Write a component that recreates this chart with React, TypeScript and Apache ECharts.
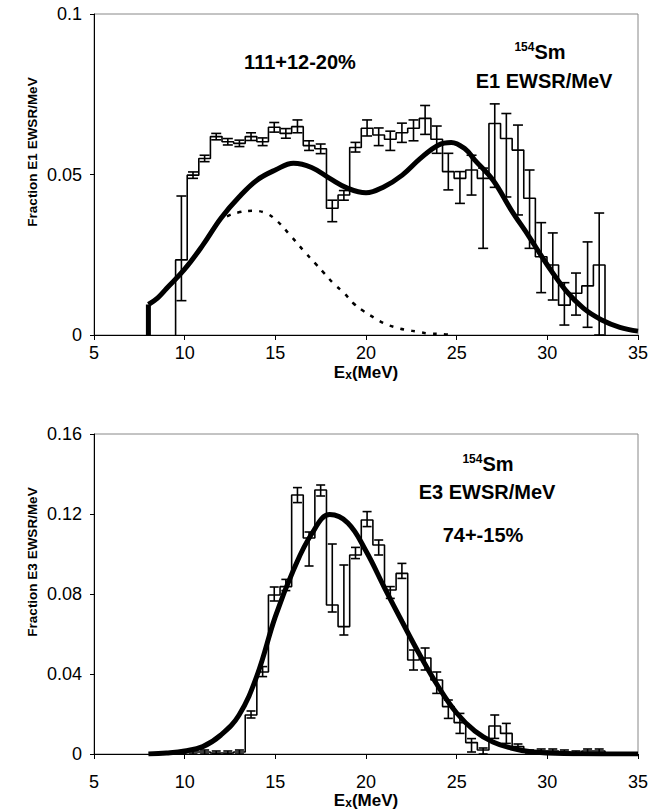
import React, { useEffect, useRef } from "react";
import * as echarts from "echarts";

// Bin edges (MeV), shared by both histograms
const binEdges = [
  9.5, 10.14, 10.78, 11.42, 12.06, 12.7, 13.34, 13.98, 14.62, 15.26, 15.9, 16.54, 17.18,
  17.82, 18.46, 19.1, 19.74, 20.38, 21.02, 21.66, 22.3, 22.94, 23.58, 24.22, 24.86, 25.5,
  26.14, 26.78, 27.42, 28.06, 28.7, 29.34, 29.98, 30.62, 31.26, 31.9, 32.54, 33.18,
];

// E1 histogram
const e1Values = [
  0.0234, 0.0498, 0.055, 0.0618, 0.0602, 0.0597, 0.0618, 0.0602, 0.0647, 0.0628, 0.0649,
  0.059, 0.058, 0.0395, 0.0436, 0.0584, 0.0644, 0.0623, 0.061, 0.063, 0.0644, 0.0675,
  0.061, 0.0509, 0.0488, 0.0514, 0.0488, 0.0659, 0.0612, 0.0576, 0.0426, 0.0244, 0.0218,
  0.0093, 0.013, 0.0153, 0.0218,
];
const e1Lo = [
  0.0107, 0.0488, 0.054, 0.0608, 0.0592, 0.0587, 0.0606, 0.059, 0.0632, 0.0613, 0.063,
  0.0575, 0.0565, 0.0353, 0.042, 0.057, 0.062, 0.059, 0.0575, 0.06, 0.0605, 0.0625,
  0.0566, 0.0452, 0.041, 0.0436, 0.027, 0.046, 0.043, 0.0374, 0.027, 0.0132, 0.0109,
  0.0031, 0.0062, 0.0024, 0,
];
const e1Hi = [
  0.0433, 0.0508, 0.056, 0.0628, 0.0612, 0.0607, 0.063, 0.0614, 0.0662, 0.0643, 0.067,
  0.0605, 0.0595, 0.042, 0.045, 0.06, 0.067, 0.0645, 0.0635, 0.066, 0.067, 0.0715,
  0.0651, 0.0566, 0.0509, 0.056, 0.052, 0.072, 0.069, 0.0654, 0.0514, 0.035, 0.0318,
  0.0163, 0.0193, 0.029, 0.038,
];

// E1 fit (thick) and lower component (dashed)
const e1FitX = [8, 8.5, 9, 10, 11, 12, 13, 14, 15, 16, 17, 18, 19, 20, 21, 22, 23, 24, 24.7, 25.5, 26, 27, 28, 29, 30, 31, 32, 33, 34, 35];
const e1FitY = [
  0.0095, 0.0115, 0.0145, 0.0205, 0.028, 0.0364, 0.043, 0.0483, 0.0514, 0.0535, 0.0522,
  0.0488, 0.0457, 0.0443, 0.0462, 0.0498, 0.055, 0.0592, 0.06, 0.0578, 0.0545, 0.0483,
  0.039, 0.0306, 0.0218, 0.014, 0.0083, 0.0047, 0.0024, 0.0012,
];
const e1CompX = [11.8, 12.3, 12.9, 13.8, 14.5, 15.1, 15.8, 16.6, 17.2, 17.7, 18.2, 18.8, 19.3, 19.9, 20.5, 21.0, 21.6, 22.2, 22.9, 23.4, 24.2, 24.7];
const e1CompY = [
  0.0353, 0.0369, 0.0381, 0.0387, 0.0379, 0.0355, 0.0312, 0.026, 0.0223, 0.0192, 0.0161,
  0.013, 0.0099, 0.0073, 0.0052, 0.0036, 0.0024, 0.0016, 0.001, 0.0005, 0.0003, 0,
];

// E3 histogram
const e3Values = [
  0.0005, 0.001, 0.001, 0.0005, 0.0005, 0.001, 0.0195, 0.041, 0.0795, 0.0837, 0.1295,
  0.108, 0.132, 0.0745, 0.0637, 0.0995, 0.117, 0.1045, 0.082, 0.0903, 0.047, 0.048,
  0.037, 0.0237, 0.0157, 0.0057, 0.002, 0.014, 0.0103, 0.0037, 0.001, 0.0015, 0.0015,
  0.001, 0.0005, 0.0015, 0.0015,
];
const e3Lo = [
  0, 0, 0, 0, 0, 0, 0.018, 0.0387, 0.0765, 0.0817, 0.1257, 0.094, 0.129, 0.071, 0.0595,
  0.0977, 0.1137, 0.0995, 0.0778, 0.0878, 0.042, 0.042, 0.0303, 0.0178, 0.0103, 0.001, 0,
  0.0078, 0.0053, 0.002, 0, 0, 0, 0, 0, 0, 0,
];
const e3Hi = [
  0.0015, 0.002, 0.002, 0.0015, 0.0015, 0.002, 0.0215, 0.0437, 0.0835, 0.0873, 0.1332,
  0.111, 0.1345, 0.105, 0.0945, 0.1033, 0.1212, 0.107, 0.0837, 0.0953, 0.052, 0.053,
  0.041, 0.027, 0.0203, 0.0077, 0.003, 0.0195, 0.0153, 0.005, 0.002, 0.0025, 0.0025,
  0.002, 0.0015, 0.0025, 0.0025,
];

// E3 fit
const e3FitX = [8, 9, 10, 11, 12, 13, 14, 15, 16, 17, 18, 19, 20, 21, 22, 23, 24, 25, 26, 27, 28, 29, 30, 32, 35];
const e3FitY = [
  0, 0.0005, 0.0015, 0.0037, 0.0095, 0.0195, 0.0395, 0.0687, 0.092, 0.11, 0.1197, 0.1155,
  0.1015, 0.0835, 0.066, 0.049, 0.0335, 0.0205, 0.0115, 0.006, 0.003, 0.0012, 0.0005, 0.0001, 0,
];

const xTicks = [5, 10, 15, 20, 25, 30, 35];
const yTicksTop = [0, 0.05, 0.1];
const yTicksBottom = [0, 0.04, 0.08, 0.12, 0.16];

const FONT = "Arial, 'Liberation Sans', Helvetica, sans-serif";

function stepData(edges: number[], vals: number[]) {
  const d: number[][] = [[edges[0], 0]];
  vals.forEach((v, i) => d.push([edges[i], v]));
  d.push([edges[edges.length - 1], vals[vals.length - 1]]);
  d.push([edges[edges.length - 1], 0]);
  return d;
}

function errData(edges: number[], lo: number[], hi: number[]) {
  return lo.map((l, i) => [(edges[i] + edges[i + 1]) / 2, l, hi[i]]);
}

function makeErrRender(cap: number) {
  return (params: any, api: any) => {
    const x = api.value(0);
    const p1 = api.coord([x, api.value(1)]);
    const p2 = api.coord([x, api.value(2)]);
    const st = { stroke: "#000", lineWidth: 1.6 };
    return {
      type: "group",
      children: [
        { type: "line", shape: { x1: p1[0], y1: p1[1], x2: p2[0], y2: p2[1] }, style: st },
        { type: "line", shape: { x1: p1[0] - cap, y1: p1[1], x2: p1[0] + cap, y2: p1[1] }, style: st },
        { type: "line", shape: { x1: p2[0] - cap, y1: p2[1], x2: p2[0] + cap, y2: p2[1] }, style: st },
      ],
    };
  };
}

const xNameRich = {
  e: { fontSize: 17, fontWeight: "bold", fontFamily: FONT, color: "#000", lineHeight: 18 },
  s: { fontSize: 12, fontWeight: "bold", fontFamily: FONT, color: "#000", lineHeight: 6, verticalAlign: "bottom" },
};

function xAxis(gridIndex: number, labelMargin: number, nameGap: number) {
  return {
    type: "value",
    gridIndex,
    min: xTicks[0],
    max: xTicks[xTicks.length - 1],
    interval: xTicks[1] - xTicks[0],
    axisLine: { show: true, onZero: false, lineStyle: { color: "#000", width: 1 } },
    axisTick: { show: true, length: 5, lineStyle: { color: "#000" } },
    axisLabel: { color: "#000", fontSize: 18, fontFamily: FONT, margin: labelMargin },
    splitLine: { show: false },
    name: "{e|E}{s|x}{e|(MeV)}",
    nameLocation: "middle",
    nameGap,
    nameTextStyle: { rich: xNameRich },
  };
}

function yAxis(gridIndex: number, ticks: number[]) {
  return {
    type: "value",
    gridIndex,
    min: ticks[0],
    max: ticks[ticks.length - 1],
    interval: ticks[1] - ticks[0],
    axisLine: { show: true, lineStyle: { color: "#000", width: 1 } },
    axisTick: { show: true, length: 4, lineStyle: { color: "#000" } },
    axisLabel: { color: "#000", fontSize: 18, fontFamily: FONT, margin: 12 },
    splitLine: { show: false },
  };
}

export default function App() {
  const ref = useRef<HTMLDivElement>(null);
  useEffect(() => {
    if (!ref.current) return;
    const chart = echarts.init(ref.current, null, { renderer: "svg" });
    const black = "#000";
    const supRich = {
      sup: { fontSize: 12, fontWeight: "bold", fontFamily: FONT, fill: black, lineHeight: 8, verticalAlign: "top" },
      big: { fontSize: 20, fontWeight: "bold", fontFamily: FONT, fill: black, lineHeight: 22 },
    };
    const option: any = {
      animation: false,
      backgroundColor: "#fff",
      grid: [
        { left: 94, right: 34, top: 14, height: 321, show: true, borderColor: "#888", borderWidth: 1 },
        { left: 94, right: 34, top: 434, height: 320, show: true, borderColor: "#888", borderWidth: 1 },
      ],
      xAxis: [xAxis(0, 9, 28), xAxis(1, 19, 33)],
      yAxis: [yAxis(0, yTicksTop), yAxis(1, yTicksBottom)],
      series: [
        {
          type: "line", xAxisIndex: 0, yAxisIndex: 0, step: "end", symbol: "none",
          data: stepData(binEdges, e1Values), lineStyle: { color: black, width: 1.6 },
        },
        {
          type: "custom", xAxisIndex: 0, yAxisIndex: 0, renderItem: makeErrRender(5),
          encode: { x: 0, y: [1, 2] }, data: errData(binEdges, e1Lo, e1Hi),
        },
        {
          type: "line", xAxisIndex: 0, yAxisIndex: 0, symbol: "none", smooth: 0.4,
          data: e1CompX.map((x, i) => [x, e1CompY[i]]),
          lineStyle: { color: black, width: 2.5, type: [4, 7] },
        },
        {
          type: "line", xAxisIndex: 0, yAxisIndex: 0, symbol: "none", smooth: 0.4,
          data: e1FitX.map((x, i) => [x, e1FitY[i]]),
          lineStyle: { color: black, width: 5 },
        },
        {
          type: "line", xAxisIndex: 0, yAxisIndex: 0, symbol: "none",
          data: [[e1FitX[0], 0], [e1FitX[0], e1FitY[0]]],
          lineStyle: { color: black, width: 5 },
        },
        {
          type: "line", xAxisIndex: 1, yAxisIndex: 1, step: "end", symbol: "none",
          data: stepData(binEdges, e3Values), lineStyle: { color: black, width: 1.6 },
        },
        {
          type: "custom", xAxisIndex: 1, yAxisIndex: 1, renderItem: makeErrRender(4.5),
          encode: { x: 0, y: [1, 2] }, data: errData(binEdges, e3Lo, e3Hi),
        },
        {
          type: "line", xAxisIndex: 1, yAxisIndex: 1, symbol: "none", smooth: 0.4,
          data: e3FitX.map((x, i) => [x, e3FitY[i]]),
          lineStyle: { color: black, width: 5 },
        },
      ],
      graphic: [
        {
          type: "text", x: 32, y: 152, rotation: Math.PI / 2,
          style: { text: "Fraction E1 EWSR/MeV", font: `bold 13.5px ${FONT}`, fill: black, align: "center", verticalAlign: "middle" },
        },
        {
          type: "text", x: 32, y: 562, rotation: Math.PI / 2,
          style: { text: "Fraction E3 EWSR/MeV", font: `bold 13.5px ${FONT}`, fill: black, align: "center", verticalAlign: "middle" },
        },
        {
          type: "text", x: 300, y: 62,
          style: { text: "111+12-20%", font: `bold 20px ${FONT}`, fill: black, align: "center", verticalAlign: "middle" },
        },
        {
          type: "text", x: 540, y: 52,
          style: { text: "{sup|154}{big|Sm}", align: "center", verticalAlign: "middle", rich: supRich },
        },
        {
          type: "text", x: 544, y: 81,
          style: { text: "E1 EWSR/MeV", font: `bold 20px ${FONT}`, fill: black, align: "center", verticalAlign: "middle" },
        },
        {
          type: "text", x: 488, y: 464,
          style: { text: "{sup|154}{big|Sm}", align: "center", verticalAlign: "middle", rich: supRich },
        },
        {
          type: "text", x: 487, y: 492,
          style: { text: "E3 EWSR/MeV", font: `bold 20px ${FONT}`, fill: black, align: "center", verticalAlign: "middle" },
        },
        {
          type: "text", x: 483, y: 535,
          style: { text: "74+-15%", font: `bold 20px ${FONT}`, fill: black, align: "center", verticalAlign: "middle" },
        },
      ],
    };
    chart.setOption(option);
    return () => chart.dispose();
  }, []);
  return (
    <div
      ref={ref}
      style={{ position: "absolute", left: 0, top: 0, width: 672, height: 812, background: "#fff" }}
    />
  );
}
